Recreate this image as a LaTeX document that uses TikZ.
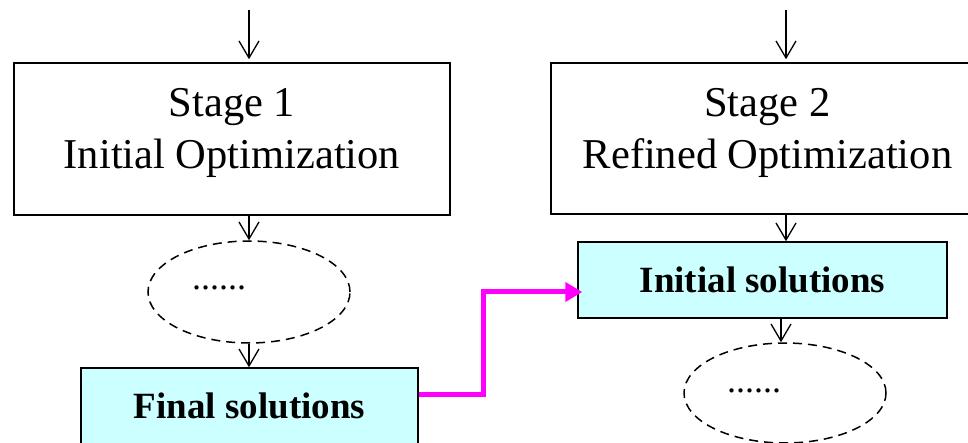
\documentclass[tikz,border=0pt]{standalone}
\usepackage{fontspec}
\setmainfont{Liberation Serif}
\usetikzlibrary{shapes.geometric,arrows.meta}
\definecolor{lcyan}{RGB}{204,255,255}
\definecolor{mag}{RGB}{255,0,255}
\tikzset{
  stagebox/.style={draw, line width=1.5pt, inner sep=0pt},
  stagetext/.style={inner sep=0pt, align=center, font=\fontsize{42.5}{52}\selectfont},
  solbox/.style={draw, fill=lcyan, line width=1.5pt, inner sep=0pt,
    font=\fontsize{37}{44}\selectfont\bfseries},
  dashell/.style={draw, ellipse, dashed, dash pattern=on 9pt off 6pt, line width=1.5pt, inner sep=0pt},
  dotstxt/.style={inner sep=0pt, anchor=base, font=\fontsize{36}{44}\selectfont},
  arr/.style={line width=1.3pt, -{Straight Barb[length=17pt,width=20pt,line width=1.3pt]}},
  magarr/.style={draw=mag, line width=5pt, -{Triangle[length=17pt,width=19pt]}, shorten >=-5pt},
}
\begin{document}
\begin{tikzpicture}[x=1pt,y=-1pt]
\useasboundingbox (0,0) rectangle (968,443);
\clip (0,0) rectangle (968,443);
\node[stagebox, minimum width=436pt, minimum height=152pt] (stage1) at (232,139) {};
\node[stagetext] (s1txt) at (232,133) {Stage 1\\Initial Optimization};
\node[stagebox, minimum width=433pt, minimum height=151pt] (stage2) at (767.5,138.5) {};
\node[stagetext] (s2txt) at (767.5,133) {Stage 2\\Refined Optimization};
\node[dashell, minimum width=202pt, minimum height=102pt] (ell1) at (249,292) {};
\node[dotstxt] (dots1) at (219,290) {......};
\node[dashell, minimum width=202pt, minimum height=100pt] (ell2) at (785,393) {};
\node[dotstxt] (dots2) at (754,392) {......};
\node[solbox, minimum width=337pt, minimum height=76pt] (final) at (249.5,406) {Final solutions};
\node[solbox, minimum width=369pt, minimum height=76pt] (init) at (762.5,280) {Initial solutions};
\coordinate (in1) at (249,10);
\coordinate (in2) at (786,10);
\coordinate (bend) at (483,340);
\draw[arr, shorten >=3pt] (in1) -- (in1 |- stage1.north);
\draw[arr, shorten >=3pt] (in2) -- (in2 |- stage2.north);
\draw[arr] (ell1.north |- stage1.south) -- (ell1.north);
\draw[arr] (ell1.south) -- (ell1.south |- final.north);
\draw[arr] (in2 |- stage2.south) -- (in2 |- init.north);
\draw[arr] ([xshift=-4pt]ell2.north |- init.south) -- ([xshift=-4pt]ell2.north);
\draw[magarr] ([yshift=12pt]final.east) -| (bend) |- ([yshift=-12pt]init.west);
\end{tikzpicture}
\end{document}
